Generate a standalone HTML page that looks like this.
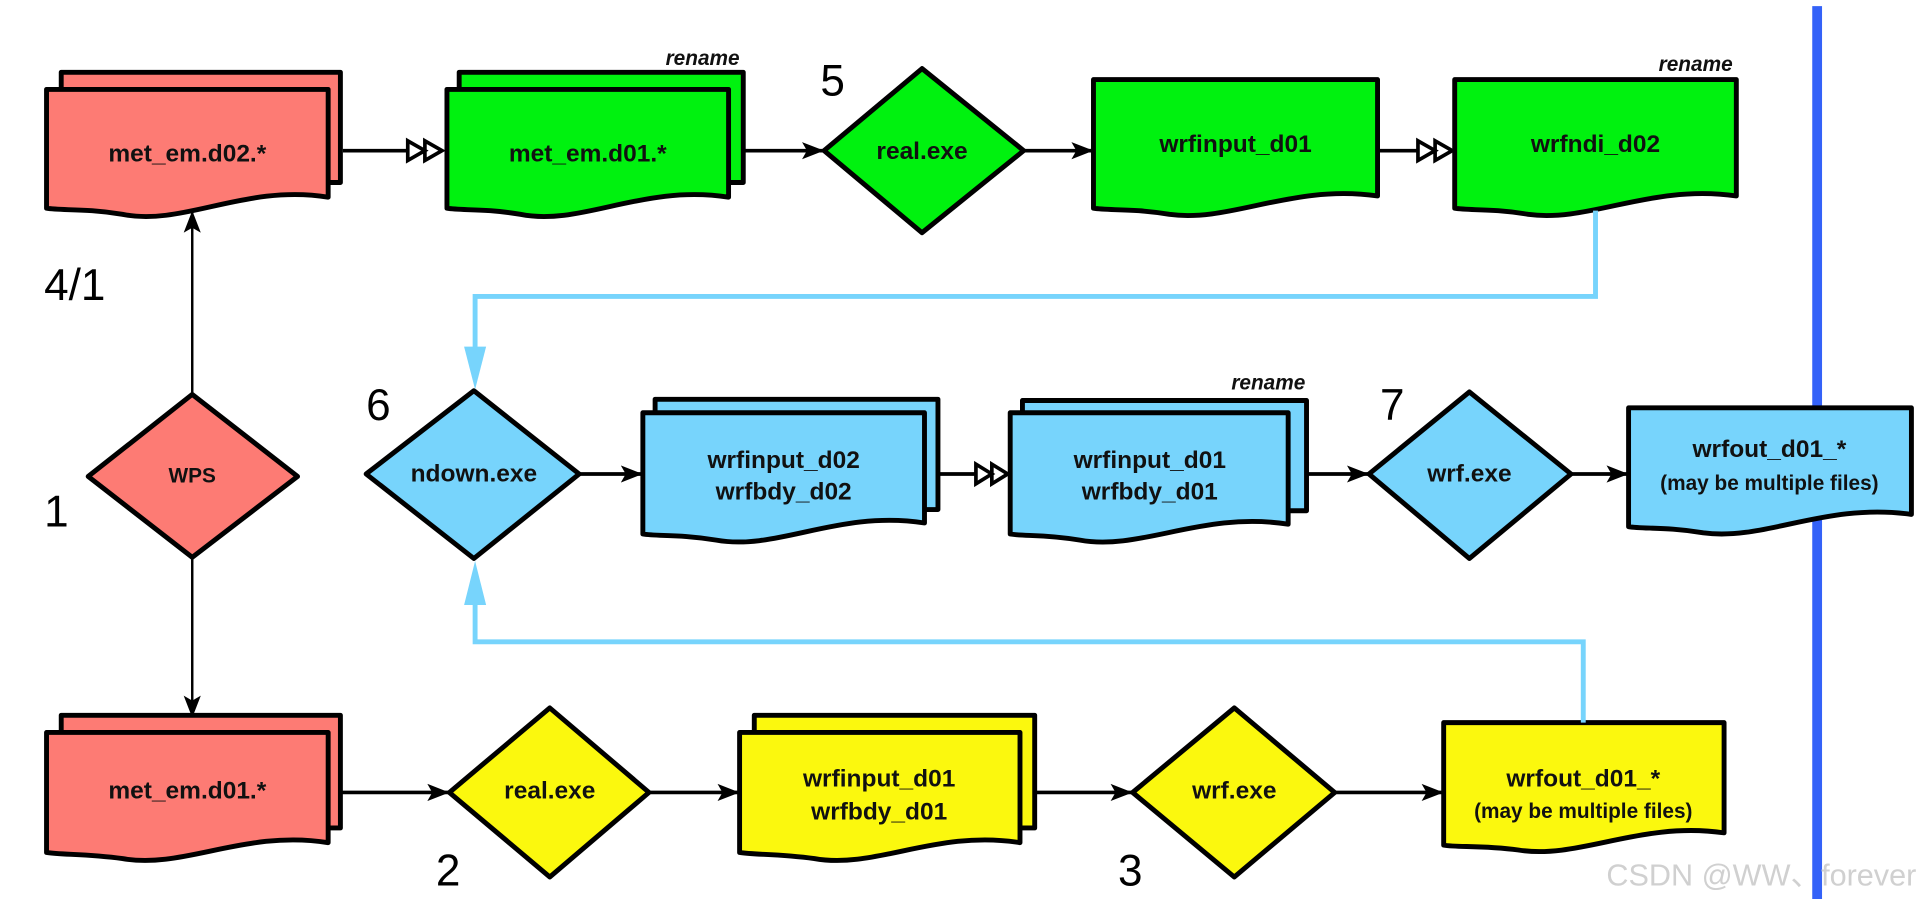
<!DOCTYPE html>
<html><head><meta charset="utf-8"><style>
html,body{margin:0;padding:0;background:#fff;width:1920px;height:899px;overflow:hidden}
svg{display:block}
text{font-family:"Liberation Sans",sans-serif;font-weight:bold;fill:#111}
.n{font-weight:normal;font-size:36px;fill:#000}
.r{font-style:italic;font-size:17px}
.t{font-size:20px}
</style></head><body>
<svg width="1920" height="899" viewBox="0 0 1568 734" preserveAspectRatio="none" xmlns="http://www.w3.org/2000/svg">
<defs>
<marker id="a" markerWidth="20" markerHeight="16" refX="17" refY="8" orient="auto" markerUnits="userSpaceOnUse"><path d="M0,1 L18,8 L0,15 L4,8z" fill="#000"/></marker>
</defs>
<!-- blue vertical bar (behind) -->
<rect x="1480" y="5" width="8" height="729" fill="#3462f8"/>
<g stroke="#000" stroke-width="4" stroke-linejoin="round">
<path d="M50,59 H278 V149 H50z" fill="#fd7b74"/>
<path d="M38,73 H268 V161 C200,150 150,185 100,175 C70,170 50,172 38,170z" fill="#fd7b74"/>
<path d="M375,59 H607 V149 H375z" fill="#00f20f"/>
<path d="M365,73 H595 V161 C525,150 475,185 425,175 C395,170 377,172 365,170z" fill="#00f20f"/>
<path d="M753,56 L836,123 L753,190 L673,123z" fill="#00f20f"/>
<path d="M893,65 H1125 V160 C1055,150 1005,182 955,175 C925,170 905,172 893,170z" fill="#00f20f"/>
<path d="M1188,65 H1418 V160 C1348,150 1298,182 1248,175 C1218,170 1200,172 1188,170z" fill="#00f20f"/>

<path d="M157,322 L243,389 L157,455 L72,389z" fill="#fd7b74"/>
<path d="M387,319 L473,387 L387,456 L299,387z" fill="#77d4fc"/>
<path d="M535,326 H766 V416 H535z" fill="#77d4fc"/>
<path d="M525,337 H755 V427 C685,416 635,450 585,441 C555,436 537,438 525,436z" fill="#77d4fc"/>
<path d="M835,327 H1067 V417 H835z" fill="#77d4fc"/>
<path d="M825,337 H1052 V428 C982,417 932,450 882,441 C852,436 837,438 825,436z" fill="#77d4fc"/>
<path d="M1200,320 L1283,387 L1200,456 L1118,387z" fill="#77d4fc"/>
<path d="M1330,333 H1561 V420 C1491,410 1441,442 1391,435 C1361,430 1342,432 1330,430z" fill="#77d4fc"/>

<path d="M50,584 H278 V676 H50z" fill="#fd7b74"/>
<path d="M38,598 H268 V688 C200,677 150,710 100,701 C70,697 50,698 38,696z" fill="#fd7b74"/>
<path d="M449,578 L530,647 L449,716 L367,647z" fill="#fbf80e"/>
<path d="M616,584 H845 V676 H616z" fill="#fbf80e"/>
<path d="M604,598 H833 V688 C765,677 715,710 665,701 C635,697 616,698 604,696z" fill="#fbf80e"/>
<path d="M1008,578 L1090,647 L1008,716 L925,647z" fill="#fbf80e"/>
<path d="M1179,590 H1408 V680 C1340,670 1290,702 1240,694 C1210,690 1190,692 1179,690z" fill="#fbf80e"/>
</g>

<g stroke="#000" stroke-width="3" fill="none">
<line x1="280" y1="123" x2="333" y2="123"/>
<line x1="607" y1="123" x2="672" y2="123" marker-end="url(#a)"/>
<line x1="836" y1="123" x2="892" y2="123" marker-end="url(#a)"/>
<line x1="1125" y1="123" x2="1158" y2="123"/>
<line x1="157" y1="322" x2="157" y2="173" stroke-width="2" marker-end="url(#a)"/>
<line x1="157" y1="455" x2="157" y2="585" stroke-width="2" marker-end="url(#a)"/>
<line x1="473" y1="387" x2="524" y2="387" marker-end="url(#a)"/>
<line x1="766" y1="387" x2="797" y2="387"/>
<line x1="1067" y1="387" x2="1117" y2="387" marker-end="url(#a)"/>
<line x1="1283" y1="387" x2="1329" y2="387" marker-end="url(#a)"/>
<line x1="278" y1="647" x2="366" y2="647" marker-end="url(#a)"/>
<line x1="530" y1="647" x2="603" y2="647" marker-end="url(#a)"/>
<line x1="845" y1="647" x2="924" y2="647" marker-end="url(#a)"/>
<line x1="1090" y1="647" x2="1178" y2="647" marker-end="url(#a)"/>
</g>
<g stroke="#000" stroke-width="3" fill="#fff">
<path d="M333,115 L347,123 L333,131z M347,115 L361,123 L347,131z"/>
<path d="M1158,115 L1172,123 L1158,131z M1172,115 L1186,123 L1172,131z"/>
<path d="M797,379 L810,387 L797,395z M810,379 L823,387 L810,395z"/>
</g>
<g stroke="#77d4fc" stroke-width="4" fill="none">
<polyline points="1303,172 1303,242 388,242 388,285"/>
<polyline points="1293,590 1293,524 388,524 388,490"/>
</g>
<path d="M379,283 L397,283 L388,318z" fill="#77d4fc"/>
<path d="M379,494 L397,494 L388,458z" fill="#77d4fc"/>

<g class="t" text-anchor="middle">
<text x="153" y="132">met_em.d02.*</text>
<text x="480" y="132">met_em.d01.*</text>
<text x="753" y="130">real.exe</text>
<text x="1009" y="124">wrfinput_d01</text>
<text x="1303" y="124">wrfndi_d02</text>
<text x="157" y="394" font-size="17">WPS</text>
<text x="387" y="393">ndown.exe</text>
<text x="640" y="382">wrfinput_d02</text>
<text x="640" y="408">wrfbdy_d02</text>
<text x="939" y="382">wrfinput_d01</text>
<text x="939" y="408">wrfbdy_d01</text>
<text x="1200" y="393">wrf.exe</text>
<text x="1445" y="373">wrfout_d01_*</text>
<text x="1445" y="400" font-size="17">(may be multiple files)</text>
<text x="153" y="652">met_em.d01.*</text>
<text x="449" y="652">real.exe</text>
<text x="718" y="642">wrfinput_d01</text>
<text x="718" y="669">wrfbdy_d01</text>
<text x="1008" y="652">wrf.exe</text>
<text x="1293" y="642">wrfout_d01_*</text>
<text x="1293" y="668" font-size="17">(may be multiple files)</text>
</g>
<g class="r" text-anchor="end">
<text x="604" y="53">rename</text>
<text x="1415" y="58">rename</text>
<text x="1066" y="318">rename</text>
</g>
<text class="n" x="670" y="78">5</text>
<text class="n" x="36" y="245">4/1</text>
<text class="n" x="299" y="343">6</text>
<text class="n" x="36" y="430">1</text>
<text class="n" x="1127" y="343">7</text>
<text class="n" x="356" y="723">2</text>
<text class="n" x="913" y="723">3</text>
<text x="1565" y="723" text-anchor="end" font-size="25" style="font-weight:normal;fill:#d0d0d0">CSDN @WW、forever</text>
</svg>
</body></html>
